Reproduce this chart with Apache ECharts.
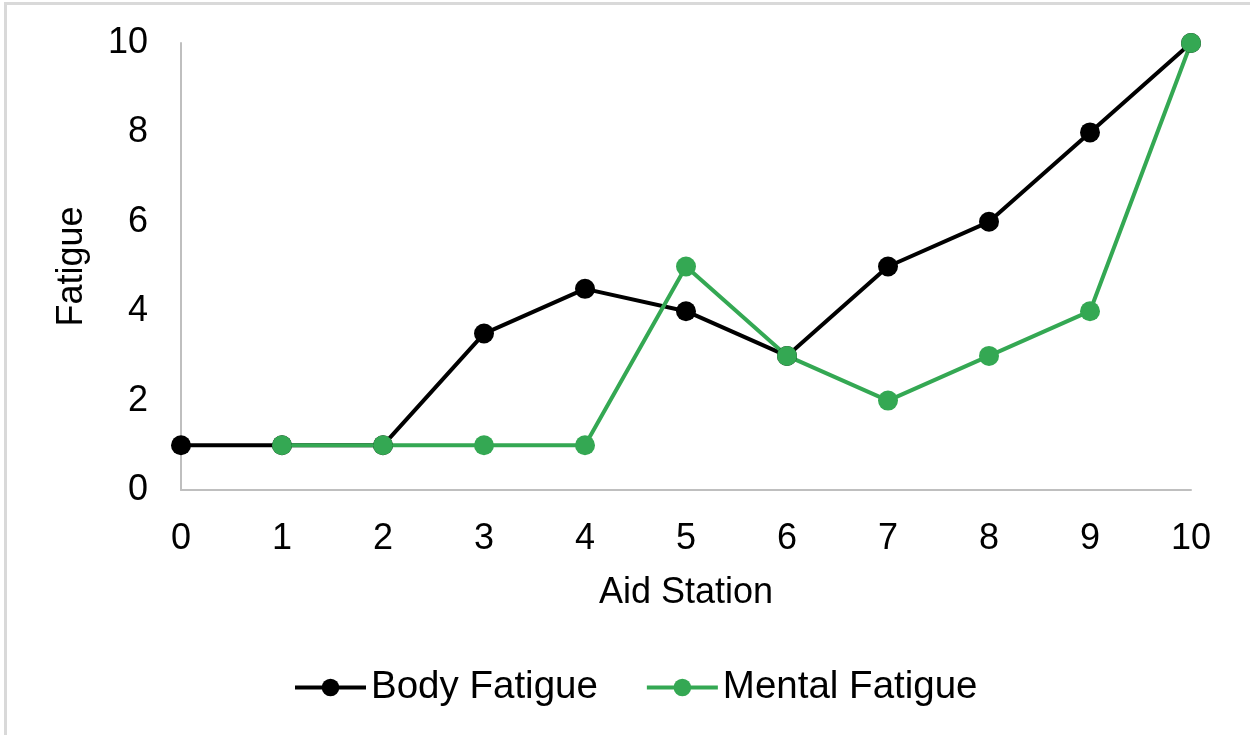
<!DOCTYPE html>
<html>
<head>
<meta charset="utf-8">
<script src="https://cdn.jsdelivr.net/npm/echarts@6/dist/echarts.min.js"></script>
<style>
  html, body { margin: 0; padding: 0; background: #ffffff; }
  #chart { position: absolute; left: 0; top: 0; width: 1250px; height: 735px; }
  #frame { position: absolute; left: 4px; top: 2px; width: 1260px; height: 760px;
           border-top: 3px solid #d9d9d9; border-left: 3px solid #d9d9d9; pointer-events: none; }
</style>
</head>
<body>
<div id="chart"></div>
<div id="frame"></div>
<script>
// Fatigue ratings recorded at each aid station
const stations = [0, 1, 2, 3, 4, 5, 6, 7, 8, 9, 10];
const bodyFatigue = [1, 1, 1, 3.5, 4.5, 4, 3, 5, 6, 8, 10];
const mentalFatigue = [null, 1, 1, 1, 1, 5, 3, 2, 3, 4, 10];
const yTicks = [0, 2, 4, 6, 8, 10];

const FONT = '"Liberation Sans", Arial, sans-serif';
const pairs = (ys) => stations.map((x, i) => [x, ys[i] === null ? '-' : ys[i]]);

const chart = echarts.init(document.getElementById('chart'), null, { renderer: 'canvas' });
chart.setOption({
  animation: false,
  backgroundColor: '#ffffff',
  textStyle: { fontFamily: FONT },
  grid: { left: 181, right: 59, top: 43, bottom: 245, containLabel: false },
  legend: {
    left: 288, top: 663,
    itemWidth: 71, itemHeight: 22, itemGap: 47,
    lineStyle: { width: 4 },
    textStyle: { fontFamily: FONT, fontSize: 38.5, color: '#000000', padding: [0, 0, 0, 0] },
    data: ['Body Fatigue', 'Mental Fatigue']
  },
  xAxis: {
    type: 'value', min: 0, max: 10, interval: 1,
    name: 'Aid Station', nameLocation: 'middle', nameGap: 85,
    nameTextStyle: { fontFamily: FONT, fontSize: 36, color: '#000000' },
    axisLine: { show: true, lineStyle: { color: '#bfbfbf', width: 2 } },
    axisTick: { show: false },
    splitLine: { show: false },
    axisLabel: { fontFamily: FONT, fontSize: 36, color: '#000000', margin: 31,
                 formatter: (v) => String(stations[v]) }
  },
  yAxis: {
    type: 'value', min: 0, max: 10, interval: 2,
    name: 'Fatigue', nameLocation: 'middle', nameGap: 91, nameRotate: 90,
    nameTextStyle: { fontFamily: FONT, fontSize: 36, color: '#000000' },
    axisLine: { show: true, lineStyle: { color: '#bfbfbf', width: 2 } },
    axisTick: { show: false },
    splitLine: { show: false },
    axisLabel: { fontFamily: FONT, fontSize: 36, color: '#000000', margin: 33,
                 formatter: (v) => yTicks.includes(v) ? String(v) : '' }
  },
  series: [
    {
      name: 'Body Fatigue', type: 'line', data: pairs(bodyFatigue),
      symbol: 'circle', symbolSize: 20,
      lineStyle: { color: '#000000', width: 4 },
      itemStyle: { color: '#000000' }
    },
    {
      name: 'Mental Fatigue', type: 'line', data: pairs(mentalFatigue),
      symbol: 'circle', symbolSize: 20,
      lineStyle: { color: '#34a853', width: 4 },
      itemStyle: { color: '#34a853' }
    }
  ]
});
</script>
</body>
</html>
